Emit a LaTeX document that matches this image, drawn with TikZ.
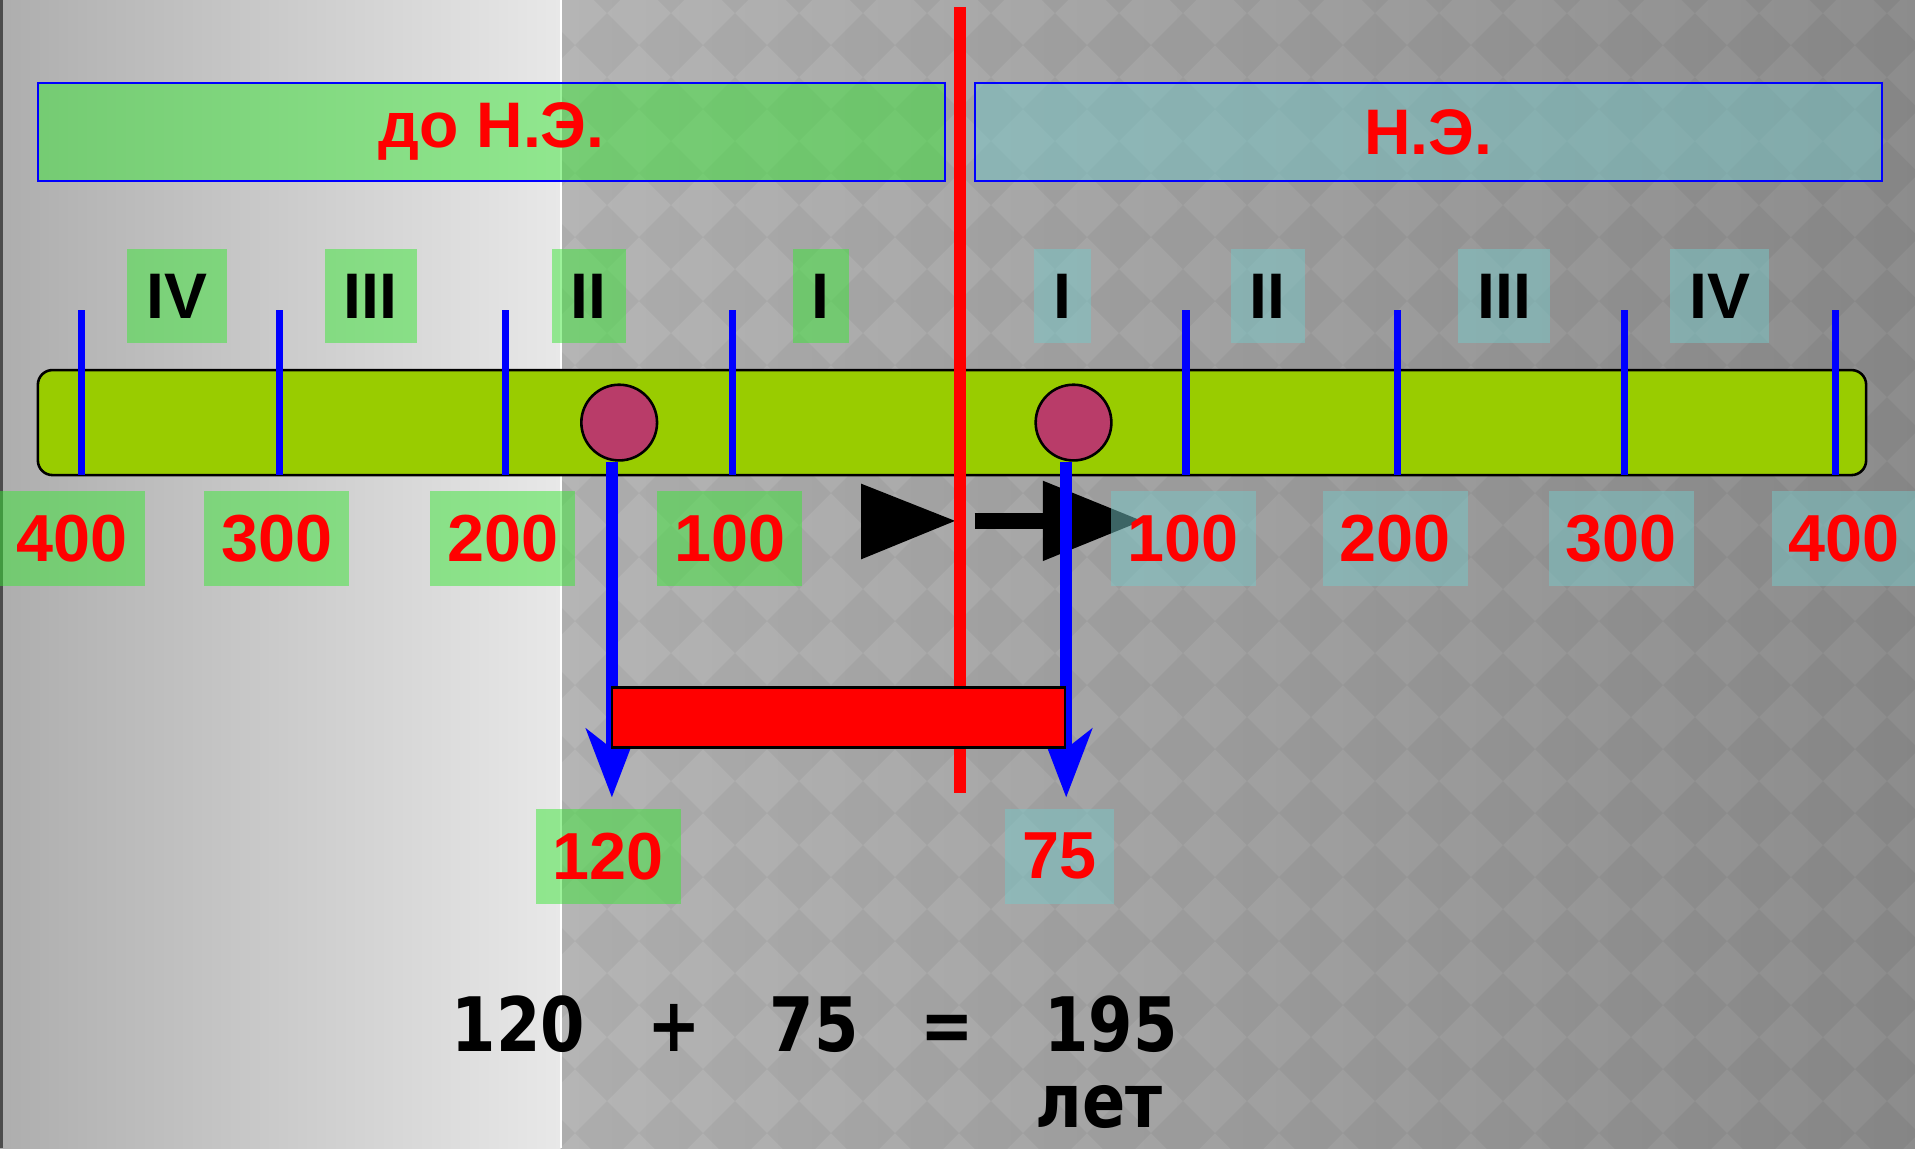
\documentclass[tikz,border=0pt]{standalone}
\usepackage{fontspec}
\setmainfont{Liberation Sans}
\newfontfamily\sumfont[FakeStretch=0.85]{DejaVu Sans}
\usetikzlibrary{arrows.meta}
\definecolor{bargreen}{RGB}{153,204,0}
\definecolor{dotred}{RGB}{185,60,105}
\definecolor{bcgreen}{RGB}{58,230,54}
\definecolor{adteal}{RGB}{120,200,200}

\begin{document}
\begin{tikzpicture}[x=0.1mm, y=-0.1mm,
  bc/.style={fill=bcgreen, fill opacity=0.5, text opacity=1},
  ad/.style={fill=adteal, fill opacity=0.5, text opacity=1},
  era/.style={draw=blue, line width=0.45pt, minimum width=74.3mm, minimum height=8mm,
    text=red, font=\fontsize{15}{18}\selectfont\bfseries},
  century/.style={minimum height=7.7mm, inner xsep=1.57mm, font=\fontsize{15}{18}\selectfont\bfseries},
  year/.style={minimum height=7.8mm, inner xsep=1.4mm, text=red, font=\fontsize{15.5}{18}\selectfont\bfseries},
  tick/.style={blue, line width=1.7pt},
  dot/.style={circle, draw=black, line width=0.6pt, fill=dotred, minimum size=6.2mm, inner sep=0pt},
  fall/.style={blue, line width=2.8pt, -{Stealth[length=5.6mm, width=4.2mm, inset=1.6mm]}},
  sum/.style={anchor=base, inner sep=0pt, font=\sumfont\fontsize{17.5}{20}\selectfont\bfseries}]
\useasboundingbox (0,0) rectangle (1568,940);
\shade[left color=gray!64, right color=gray!18] (0,0) rectangle (459,940);
\shade[left color=black!29, right color=black!45] (459,0) rectangle (1568,940);
\begin{scope}
\clip (459,0) rectangle (1568,940);
\foreach \i in {8,...,30}
  \foreach \j in {-1,...,18}
    \fill[black, opacity=0.045] ({25.4+52.4*\i},{37+52.4*\j})
      +(-26.2,0) -- +(0,-26.2) -- +(26.2,0) -- +(0,26.2) -- cycle;
\end{scope}
\draw[white, line width=0.5pt] (459,0) -- (459,940);
\draw[black!70, line width=0.6pt] (1,0) -- (1,940);

\node[era, bc] (bce) at (402.5,108) {до Н.Э.};
\node[era, ad] (ce) at (1169.5,108) {Н.Э.};
\foreach \x/\t [count=\k] in {145/IV,303.5/III,482/II,672/I}
  \node[bc, century] (cb\k) at (\x,242.5) {\t};
\foreach \x/\t [count=\k] in {870/I,1038/II,1231.5/III,1408/IV}
  \node[ad, century] (ca\k) at (\x,242.5) {\t};

\node[draw, line width=0.6pt, fill=bargreen, rounded corners=1.2mm, minimum width=149.7mm,
  minimum height=8.6mm] (line) at (779.5,346) {};
\foreach \x in {67,229,414,600,971,1144,1330,1503}
  \draw[tick] (\x,254) -- (\x,389);

\fill (705,396) -- (782,426.5) -- (705,458) -- cycle;
\coordinate (go) at (798,426.5);
\coordinate (goend) at (936,426.5);
\draw[line width=3.6pt, -{Triangle[length=8.2mm, width=6.2mm]}] (go) -- (goend);

\coordinate (zerotop) at (786,6);
\coordinate (zerobot) at (786,649);
\draw[red, line width=2.6pt] (zerotop) -- (zerobot);

\foreach \x/\t [count=\k] in {59/400,226.5/300,411.5/200,597.5/100}
  \node[bc, year] (yb\k) at (\x,441) {\t};
\foreach \x/\t [count=\k] in {969/100,1142.5/200,1327.5/300,1510/400}
  \node[ad, year] (ya\k) at (\x,441) {\t};

\node[dot] (from) at (507,346) {};
\node[dot] (to) at (879,346) {};
\coordinate (fromyear) at (501,653);
\coordinate (toyear) at (873,653);
\draw[fall] (from.south -| fromyear) -- (fromyear);
\draw[fall] (to.south -| toyear) -- (toyear);
\node[draw, line width=0.6pt, fill=red, minimum width=37.1mm, minimum height=4.9mm,
  inner sep=0pt] (span) at (686.5,587.5) {};

\node[bc, year] (fromlabel) at (498,701) {120};
\node[ad, year] (tolabel) at (867.5,701) {75};

\node[sum] (s1) at (424.5,861) {120};
\node[sum] (s2) at (552,861) {+};
\node[sum] (s3) at (666.5,861) {75};
\node[sum] (s4) at (775.5,861) {=};
\node[sum] (s5) at (909.5,861) {195};
\node[sum] (s6) at (900,923) {лет};
\end{tikzpicture}
\end{document}
